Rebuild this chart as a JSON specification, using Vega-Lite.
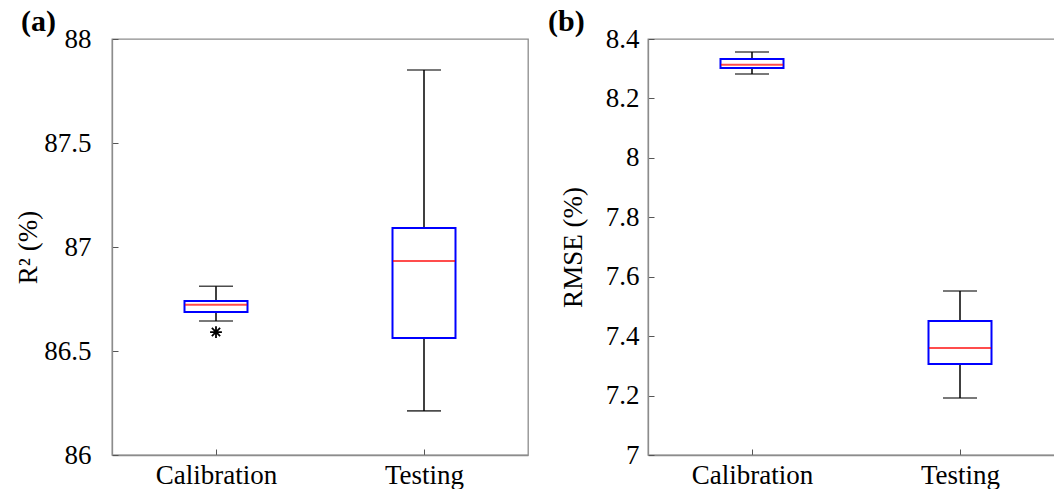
{
  "$schema": "https://vega.github.io/schema/vega-lite/v6.json",
  "background": "white",
  "padding": {"left": 14, "top": 6, "right": 0, "bottom": 0},
  "spacing": 18,
  "config": {
    "font": "Liberation Serif",
    "view": {"stroke": "#8c8c8c", "strokeWidth": 1.3},
    "axis": {
      "grid": false,
      "domainColor": "#8c8c8c",
      "domainWidth": 1.3,
      "tickColor": "#555555",
      "tickSize": -6,
      "tickWidth": 1,
      "labelFont": "Liberation Serif",
      "labelFontSize": 27,
      "labelColor": "black",
      "titleFont": "Liberation Serif",
      "titleFontSize": 27,
      "titleFontWeight": "normal",
      "titleColor": "black"
    },
    "title": {"font": "Liberation Serif", "fontSize": 30, "fontWeight": "bold", "anchor": "start", "frame": "group", "color": "black"}
  },
  "data": {
    "values": [
      {"panel": "a", "group": "Calibration", "lo": 86.644, "q1": 86.688, "med": 86.722, "q3": 86.740, "hi": 86.811, "out": 86.591},
      {"panel": "a", "group": "Testing", "lo": 86.212, "q1": 86.562, "med": 86.933, "q3": 87.091, "hi": 87.851, "out": null},
      {"panel": "b", "group": "Calibration", "lo": 8.282, "q1": 8.302, "med": 8.313, "q3": 8.333, "hi": 8.356, "out": null},
      {"panel": "b", "group": "Testing", "lo": 7.192, "q1": 7.306, "med": 7.360, "q3": 7.451, "hi": 7.552, "out": null}
    ]
  },
  "hconcat": [
    {
      "width": 416,
      "height": 416,
      "title": {"text": "(a)", "dx": -91, "offset": -12},
      "transform": [{"filter": "datum.panel === 'a'"}],
      "encoding": {
        "x": {"field": "group", "type": "nominal", "sort": ["Calibration", "Testing"],
              "scale": {"type": "point", "padding": 0.5},
              "axis": {"title": null, "labelAngle": 0, "labelPadding": 13}}
      },
      "layer": [
        {
          "mark": {"type": "rule", "color": "black", "strokeWidth": 1.5},
          "encoding": {
            "y": {"field": "lo", "type": "quantitative",
                  "scale": {"domain": [86, 88], "nice": false, "zero": false},
                  "axis": {"title": "R² (%)", "values": [86, 86.5, 87, 87.5, 88], "format": ".3~r", "labelPadding": 27, "titlePadding": 1}},
            "y2": {"field": "hi"}
          }
        },
        {"mark": {"type": "tick", "color": "black", "size": 34, "thickness": 1.6}, "encoding": {"y": {"field": "lo", "type": "quantitative"}}},
        {"mark": {"type": "tick", "color": "black", "size": 34, "thickness": 1.6}, "encoding": {"y": {"field": "hi", "type": "quantitative"}}},
        {"mark": {"type": "bar", "fill": "white", "stroke": "#0000ff", "strokeWidth": 2, "size": 63},
         "encoding": {"y": {"field": "q1", "type": "quantitative"}, "y2": {"field": "q3"}}},
        {"mark": {"type": "tick", "color": "#ff0000", "size": 62, "thickness": 2}, "encoding": {"y": {"field": "med", "type": "quantitative"}}},
        {"mark": {"type": "point", "shape": "M0,-1L0,1M-1,0L1,0M-0.7,-0.7L0.7,0.7M-0.7,0.7L0.7,-0.7", "filled": false, "color": "black", "strokeWidth": 1.8, "size": 140, "opacity": 1},
         "encoding": {"y": {"field": "out", "type": "quantitative"}}}
      ]
    },
    {
      "width": 416,
      "height": 416,
      "title": {"text": "(b)", "dx": -100, "offset": -12},
      "transform": [{"filter": "datum.panel === 'b'"}],
      "encoding": {
        "x": {"field": "group", "type": "nominal", "sort": ["Calibration", "Testing"],
              "scale": {"type": "point", "padding": 0.5},
              "axis": {"title": null, "labelAngle": 0, "labelPadding": 13}}
      },
      "layer": [
        {
          "mark": {"type": "rule", "color": "black", "strokeWidth": 1.5},
          "encoding": {
            "y": {"field": "lo", "type": "quantitative",
                  "scale": {"domain": [7, 8.4], "nice": false, "zero": false},
                  "axis": {"title": "RMSE (%)", "values": [7, 7.2, 7.4, 7.6, 7.8, 8, 8.2, 8.4], "format": ".3~r", "labelPadding": 15, "titlePadding": 18}},
            "y2": {"field": "hi"}
          }
        },
        {"mark": {"type": "tick", "color": "black", "size": 34, "thickness": 1.6}, "encoding": {"y": {"field": "lo", "type": "quantitative"}}},
        {"mark": {"type": "tick", "color": "black", "size": 34, "thickness": 1.6}, "encoding": {"y": {"field": "hi", "type": "quantitative"}}},
        {"mark": {"type": "bar", "fill": "white", "stroke": "#0000ff", "strokeWidth": 2, "size": 63},
         "encoding": {"y": {"field": "q1", "type": "quantitative"}, "y2": {"field": "q3"}}},
        {"mark": {"type": "tick", "color": "#ff0000", "size": 62, "thickness": 2}, "encoding": {"y": {"field": "med", "type": "quantitative"}}}
      ]
    }
  ]
}
